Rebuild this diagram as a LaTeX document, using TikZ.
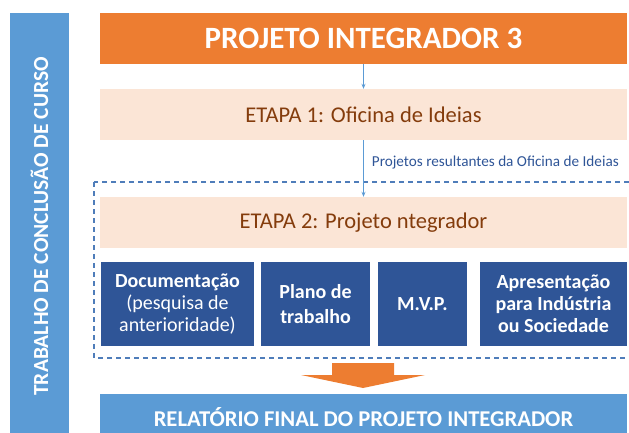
\documentclass[tikz,border=0pt]{standalone}
\usepackage{fontspec}
\setmainfont{Carlito}
\usepackage{tikz}
\usetikzlibrary{positioning, calc, arrows.meta}

\begin{document}
\begin{tikzpicture}[x=1pt, y=-1pt,
  caixa/.style={inner sep=0pt, align=center, minimum width=527pt, minimum height=51pt},
  bloco/.style={inner sep=0pt, align=center, fill=azulescuro, text=white, minimum height=84pt,
    font=\fontsize{20}{22}\selectfont},
  seta/.style={draw=azulclaro, line width=0.8pt, -{Stealth[length=5pt, width=4pt]}}]
% --- CORES HEX, CAIXAS E SETAS ---
\definecolor{laranja}{HTML}{ED7D31}
\definecolor{pessego}{HTML}{FBE5D6}
\definecolor{marrom}{HTML}{843C0C}
\definecolor{azulclaro}{HTML}{5B9BD5}
\definecolor{azulescuro}{HTML}{2F5597}
\definecolor{azultraco}{HTML}{4F7DBA}
\useasboundingbox (0,0) rectangle (629,433);

% LAYER 1: Barra lateral (TCC)
\node[inner sep=0pt, fill=azulclaro, text=white, rotate=90, minimum width=427pt, minimum height=59pt,
  font=\bfseries\fontsize{21.5}{26}\selectfont] (tcc) at (39.5,226.5) {TRABALHO DE CONCLUSÃO DE CURSO};

% LAYER 2: Titulo e etapas
\node[caixa, fill=laranja, text=white, font=\bfseries\fontsize{31}{36}\selectfont] (titulo) at (363.5,38.5) {PROJETO INTEGRADOR 3};
\node[caixa, fill=pessego, text=marrom, font=\fontsize{22.5}{26}\selectfont] (etapa1) at (363.5,114.5) {ETAPA 1: Oficina de Ideias};
\node[caixa, fill=pessego, text=marrom, font=\fontsize{22.5}{26}\selectfont] (etapa2) at (363.5,222.5) {ETAPA 2: Projeto ntegrador};

% LAYER 3: Moldura tracejada da etapa 2
\draw[azultraco, line width=1.1pt, dash pattern=on 5pt off 4pt] (94,182) rectangle (640,358);

% LAYER 4: Setas finas
\draw[seta] (titulo) -- (etapa1);
\draw[seta] (etapa1) -- (etapa2) node[pos=0.39, anchor=west, inner sep=0pt, xshift=8pt, text=azulescuro,
  font=\fontsize{15.2}{18}\selectfont] (rotulo) {Projetos resultantes da Oficina de Ideias};

% LAYER 5: Blocos da etapa 2
\node[bloco, minimum width=153pt] (doc) at (177.5,304) {\textbf{Documentação}\\(pesquisa de\\anterioridade)};
\node[bloco, minimum width=109pt, font=\bfseries\fontsize{20}{25}\selectfont] (plano) at (315.5,304) {Plano de\\trabalho};
\node[bloco, minimum width=89pt, font=\bfseries\fontsize{20}{22}\selectfont] (mvp) at (422.5,304) {M.V.P.};
\node[bloco, minimum width=147pt, font=\bfseries\fontsize{20}{22}\selectfont] (apres) at (553.5,304) {Apresentação\\para Indústria\\ou Sociedade};

% LAYER 6: Seta larga e relatorio final
\fill[laranja] (332,363) -- (394,363) -- (394,375) -- (425,375) -- (363,388) -- (301,375) -- (332,375) -- cycle;
\node[caixa, fill=azulclaro, text=white, minimum height=46pt, font=\bfseries\fontsize{22.6}{26}\selectfont] (relatorio) at (363.5,417) {RELATÓRIO FINAL DO PROJETO INTEGRADOR};
\end{tikzpicture}
\end{document}
